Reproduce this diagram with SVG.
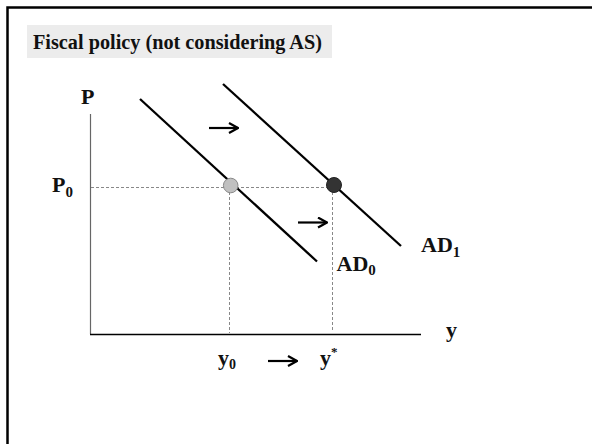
<svg xmlns="http://www.w3.org/2000/svg" width="592" height="444" viewBox="0 0 592 444">
<style>
.t{font-family:"Liberation Serif","Times New Roman",serif;font-weight:bold;fill:#111}
.ad{stroke:#000;stroke-width:2.3;fill:none}
.dash{stroke:#888;stroke-width:1;stroke-dasharray:3,2;fill:none}
.arr{stroke:#000;stroke-width:2.2;fill:none}
</style>
<defs>
<marker id="ah" viewBox="0 0 11 12" refX="10" refY="6" markerWidth="11" markerHeight="12" markerUnits="userSpaceOnUse" orient="auto">
<path d="M1,1 L10,6 L1,11" fill="none" stroke="#000" stroke-width="2.2"/>
</marker>
</defs>
<rect width="592" height="444" fill="#fff"/>
<rect x="7.5" y="7.5" width="600" height="460" fill="none" stroke="#000" stroke-width="2.5"/>
<g id="title">
<rect x="27" y="25" width="305" height="33" fill="#ececec"/>
<text class="t" x="33" y="49" font-size="20.5" textLength="289" lengthAdjust="spacingAndGlyphs">Fiscal policy (not considering AS)</text>
</g>
<g id="axes">
<line x1="90.5" y1="114" x2="90.5" y2="334" stroke="#666" stroke-width="1.2"/>
<line x1="90" y1="334.5" x2="421" y2="334.5" stroke="#000" stroke-width="1.5"/>
<text class="t" x="81" y="103.5" font-size="22">P</text>
<text class="t" x="446" y="337" font-size="22">y</text>
<text class="t" x="52" y="192" font-size="22">P<tspan font-size="15" dy="5">0</tspan></text>
</g>
<g id="connectors">
<line class="dash" x1="91" y1="187.5" x2="334" y2="187.5"/>
<line class="dash" x1="229.5" y1="187" x2="229.5" y2="333"/>
<line class="dash" x1="332.5" y1="187" x2="332.5" y2="331"/>
<line class="arr" x1="209" y1="128" x2="238" y2="128" marker-end="url(#ah)"/>
<line class="arr" x1="298" y1="222.5" x2="327" y2="222.5" marker-end="url(#ah)"/>
<line class="arr" x1="268" y1="361" x2="297" y2="361" marker-end="url(#ah)"/>
</g>
<g id="AD0">
<line class="ad" x1="140" y1="99" x2="317" y2="261.5"/>
<text class="t" x="336.5" y="270.5" font-size="22">AD<tspan font-size="15" dy="4.5">0</tspan></text>
</g>
<g id="AD1">
<line class="ad" x1="223" y1="84" x2="401" y2="246"/>
<text class="t" x="421" y="251.5" font-size="22">AD<tspan font-size="15" dy="5">1</tspan></text>
</g>
<g id="E0">
<circle cx="230.7" cy="185.5" r="7.3" fill="#c0c0c0" stroke="#888" stroke-width="1"/>
</g>
<g id="E1">
<circle cx="334" cy="185" r="7.5" fill="#333" stroke="#222" stroke-width="1"/>
</g>
<g id="ylabels">
<text class="t" x="218" y="365" font-size="22">y<tspan font-size="14" dy="4">0</tspan></text>
<text class="t" x="320" y="365" font-size="22">y<tspan font-size="13" dy="-9">*</tspan></text>
</g>
</svg>
